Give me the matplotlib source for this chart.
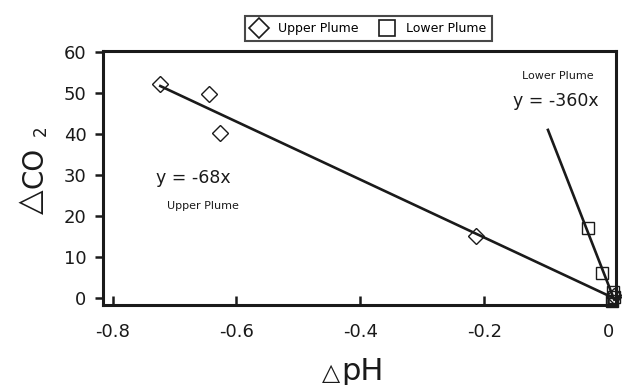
import matplotlib
matplotlib.use("Agg")
import matplotlib.pyplot as plt
from matplotlib.lines import Line2D

plt.rcParams['font.family'] = ['DejaVu Sans']
plt.rcParams['axes.unicode_minus'] = False

# Data
upper_dph = [-0.723, -0.644, -0.627, -0.214, 0.009]
upper_dco2 = [52.2, 49.8, 40.3, 15.1, 0.5]
lower_dph = [-0.032, -0.010, 0.008, 0.009, 0.007]
lower_dco2 = [17.1, 6.1, 1.5, 0.3, -0.8]

upper_fit_x = [-0.723, 0.009]
upper_fit_y = [51.7, 0.0]
lower_fit_x = [-0.097, 0.010]
lower_fit_y = [41.0, -0.4]

x_ticks = [-0.8, -0.6, -0.4, -0.2, 0]
x_tick_labels = ['-0.8', '-0.6', '-0.4', '-0.2', '0']
y_ticks = [0, 10, 20, 30, 40, 50, 60]

ink = '#1a1a1a'
W, H = 622, 385
def fx(px):
    return px / W
def fy(py):
    return 1 - py / H

fig = plt.figure(figsize=(6.22, 3.85), dpi=100)
ax = fig.add_axes([fx(103), fy(305), 513 / W, 254 / H])

ax.plot(upper_fit_x, upper_fit_y, color=ink, lw=1.9, zorder=2)
ax.plot(lower_fit_x, lower_fit_y, color=ink, lw=1.9, zorder=2)
ax.plot(upper_dph, upper_dco2, linestyle='none', marker='D', markersize=8,
        markerfacecolor='none', markeredgecolor=ink, markeredgewidth=1.0,
        clip_on=False, zorder=3)
ax.plot(lower_dph, lower_dco2, linestyle='none', marker='s', markersize=9,
        markerfacecolor='none', markeredgecolor=ink, markeredgewidth=1.0,
        clip_on=False, zorder=3)

ax.set_xlim(-0.8156, 0.0129)
ax.set_ylim(-1.7, 60.25)
ax.set_xticks(x_ticks)
ax.set_xticklabels(x_tick_labels)
ax.set_yticks(y_ticks)
for s in ax.spines.values():
    s.set_linewidth(2.2)
    s.set_color(ink)
ax.tick_params(axis='y', direction='out', length=6, width=1.8, labelsize=13, colors=ink, pad=6)
ax.tick_params(axis='x', direction='in', length=6.5, width=1.8, labelsize=13, colors=ink, pad=13)

ax.text(-0.669, 29.3, 'y = -68x', fontsize=12.5, ha='center', va='center', color=ink)
ax.text(-0.655, 22.4, 'Upper Plume', fontsize=8, ha='center', va='center', color=ink)
ax.text(-0.081, 54.1, 'Lower Plume', fontsize=8, ha='center', va='center', color=ink)
ax.text(-0.084, 48.0, 'y = -360x', fontsize=12.5, ha='center', va='center', color=ink)

# x axis label: small triangle + pH
fig.text(fx(331), fy(380), '△', fontsize=17, ha='center', va='baseline', color=ink)
fig.text(fx(341), fy(380), 'pH', fontsize=22, ha='left', va='baseline', color=ink)

# y axis label: triangle + CO + subscript 2 (rotated)
fig.text(fx(31), fy(202), '△', fontsize=23, ha='center', va='center', rotation=90, color=ink)
fig.text(fx(43), fy(188), 'CO', fontsize=20, ha='left', va='baseline', rotation=90,
         rotation_mode='anchor', color=ink)
fig.text(fx(46), fy(136), '2', fontsize=12, ha='left', va='baseline', rotation=90,
         rotation_mode='anchor', color=ink)

handles = [Line2D([], [], linestyle='none', marker='D', markersize=10, markerfacecolor='none',
                  markeredgecolor=ink, markeredgewidth=1.2),
           Line2D([], [], linestyle='none', marker='s', markersize=11, markerfacecolor='none',
                  markeredgecolor=ink, markeredgewidth=1.2)]
leg = fig.legend(handles, ['Upper Plume', 'Lower Plume'], loc='center',
                 bbox_to_anchor=(fx(368.5), fy(28.5)), ncol=2, fontsize=9,
                 frameon=True, fancybox=False, edgecolor=ink,
                 handletextpad=0.8, columnspacing=1.6, borderpad=0.45, handlelength=1.4)
leg.get_frame().set_linewidth(1.5)

fig.savefig('out.png', dpi=100)
